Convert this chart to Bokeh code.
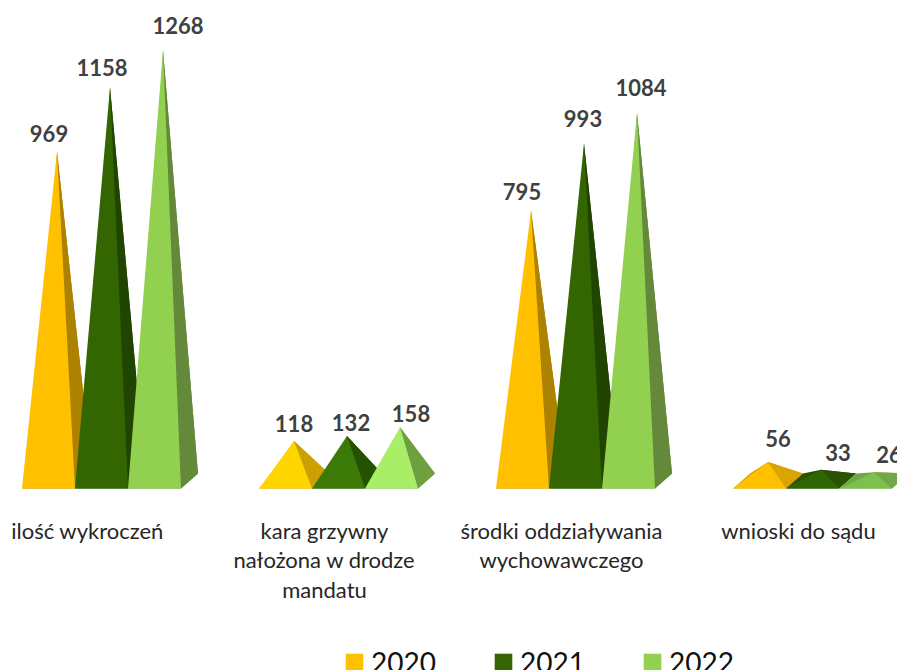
from bokeh.plotting import figure
from bokeh.models import Range1d, ColumnDataSource, Legend, LegendItem
from bokeh.core.properties import value
from bokeh.embed import file_html
from bokeh.resources import INLINE

categories = ["ilość wykroczeń", "kara grzywny\nnałożona w drodze\nmandatu",
              "środki oddziaływania\nwychowawczego", "wnioski do sądu"]
years = ["2020", "2021", "2022"]
v2020 = [969, 118, 795, 56]
v2021 = [1158, 132, 993, 33]
v2022 = [1268, 158, 1084, 26]

front = [["#FFC000", "#FFD500", "#FFC000", "#FFC000"],
         ["#336600", "#3C7A08", "#336600", "#2F6600"],
         ["#92D050", "#A8EE66", "#92D050", "#7DC04B"]]
side = [["#AD8200", "#CCA000", "#AD8200", "#D9A400"],
        ["#1F4500", "#245200", "#1F4500", "#2A5200"],
        ["#64893A", "#6FA040", "#64893A", "#70A848"]]
label_dx = [[-8, 0, -9, 10], [-8, 4, -1, 17], [15, 11, 4, 15]]
label_dy = [[-10, -9, -11, -15], [-11, -5, -16, -9], [-16, -5, -16, -9]]

W, H, BASE = 897, 670, 488
PX_X, PX_Y = 237.0, 0.34
GROUP_SHIFT = 14 / PX_X
BW = 53 / PX_X
DX, DY = 17 / PX_X, 15 / PX_Y

p = figure(width=W, height=H, output_backend="svg", toolbar_location=None,
           x_range=Range1d(-87 / PX_X, (W - 87) / PX_X),
           y_range=Range1d(-(H - BASE) / PX_Y, BASE / PX_Y),
           x_axis_location=None, y_axis_location=None,
           min_border_left=0, min_border_right=0, min_border_top=0,
           min_border_bottom=0)
p.grid.visible = False
p.outline_line_color = None

legend_items = []
for s, vals in enumerate([v2020, v2021, v2022]):
    fx, fy, sx, sy, bx, by, ax, ay = [], [], [], [], [], [], [], []
    for i, v in enumerate(vals):
        x0 = i + GROUP_SHIFT + (s - 1.5) * BW
        tip_x, tip_y = x0 + BW / 2 + DX / 2, v + DY / 2
        bx.append([x0, x0 + DX, tip_x, x0 + BW + DX, x0 + BW]); by.append([0, DY, tip_y, DY, 0])
        fx.append([x0, x0 + BW, tip_x]); fy.append([0, 0, tip_y])
        sx.append([x0 + BW, x0 + BW + DX, tip_x]); sy.append([0, DY, tip_y])
        ax.append(tip_x); ay.append(tip_y)
    p.patches(bx, by, fill_color=side[s], line_color=None)
    p.patches(sx, sy, fill_color=side[s], line_color=None)
    r = p.patches(fx, fy, fill_color=front[s], line_color=None)
    legend_items.append(LegendItem(label=years[s], renderers=[r], index=0))
    src = ColumnDataSource(dict(x=ax, y=ay, t=[str(v) for v in vals],
                                xo=label_dx[s], yo=label_dy[s]))
    p.text("x", "y", text="t", x_offset="xo", y_offset="yo", source=src,
           text_font=value("Lato"), text_font_style="bold", text_font_size="22px",
           text_color="#404040", text_align="center", text_baseline="bottom")

cat_src = ColumnDataSource(dict(x=list(range(len(categories))),
                                y=[0] * len(categories), t=categories))
p.text("x", "y", text="t", y_offset=28, source=cat_src,
       text_font=value("Lato"), text_font_size="22px", text_color="#262626",
       text_align="center", text_baseline="top", text_line_height=1.1)

legend = Legend(items=legend_items, orientation="horizontal", location=(343, -9),
                glyph_width=22, glyph_height=22, label_standoff=6, spacing=56,
                padding=0, margin=0, border_line_color=None, background_fill_color=None,
                label_text_font="Lato", label_text_font_size="28px", label_text_color="#111111")
p.add_layout(legend, "center")

open("out.html", "w").write(file_html(p, INLINE))
